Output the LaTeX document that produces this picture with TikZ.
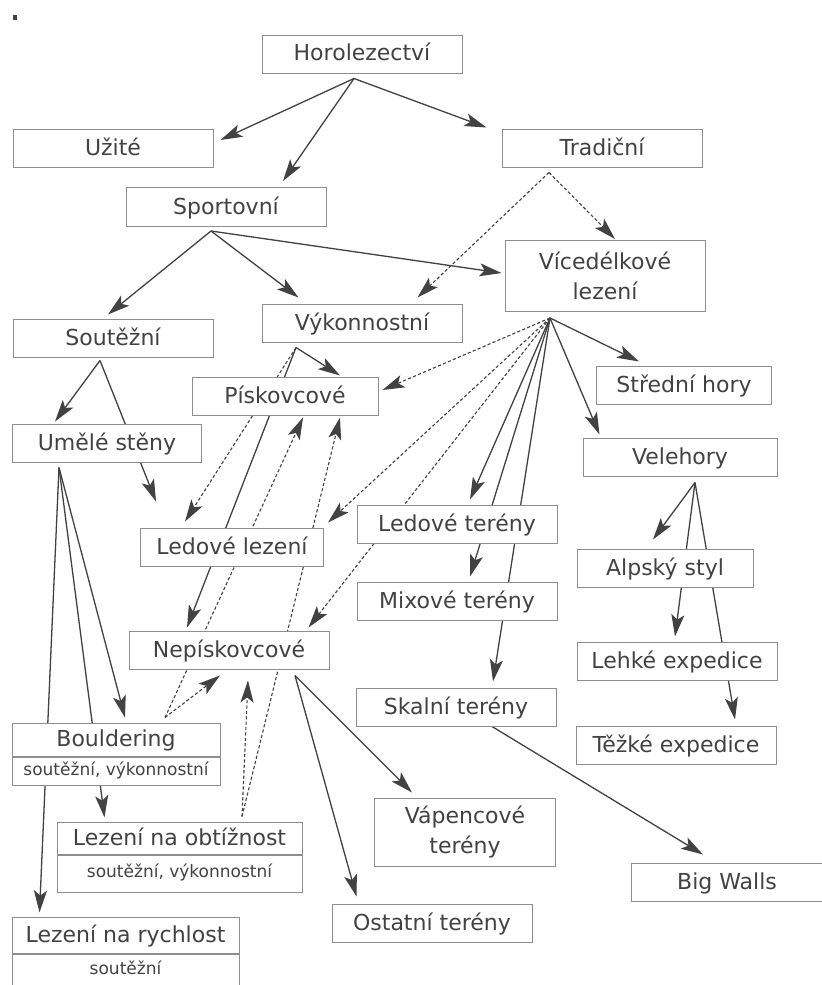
\documentclass[tikz,border=0pt]{standalone}
\usepackage{fontspec}
\setmainfont{DejaVu Sans}
\usetikzlibrary{arrows.meta}

\definecolor{ink}{HTML}{424242}
\definecolor{rule}{HTML}{8E8E8E}

\pgfdeclarelayer{back}
\pgfsetlayers{back,main}

\tikzset{
  frame/.style={draw=rule, line width=0.5pt, fill=white, text=ink, inner sep=0pt,
    minimum width=100pt, minimum height=19pt, font=\fontsize{11}{15}\selectfont},
  box/.style={frame, text height=7pt, text depth=0pt},
  subbox/.style={box, text height=4pt, font=\fontsize{8.5}{10}\selectfont},
  arr/.style={draw=ink, line width=0.65pt, -{Stealth[length=11pt,width=6.5pt,inset=2.5pt]}},
  darr/.style={arr, line width=0.55pt, dash pattern=on 1.6pt off 1.1pt}
}

\begin{document}
\begin{tikzpicture}[x=0.5pt,y=-0.5pt]

  \useasboundingbox (0,0) rectangle (822,985);
  \begin{pgfonlayer}{back}
    \fill[white] (0,0) rectangle (822,985);
  \end{pgfonlayer}
  \fill[ink] (13,15) rectangle (17,20);

  \node[box] (horo) at (362,54) {Horolezectví};
  \node[box] (uzite) at (113,148) {Užité};
  \node[box] (trad) at (602,148) {Tradiční};
  \node[box, minimum height=19.5pt] (sport) at (226,207) {Sportovní};
  \node[frame, minimum height=35.5pt, align=center] (vice) at (605,276) {Vícedélkové\\lezení};
  \node[box] (sout) at (113,338) {Soutěžní};
  \node[box] (vykon) at (362,323) {Výkonnostní};
  \node[box, minimum width=93pt] (pisk) at (285,396) {Pískovcové};
  \node[box, minimum width=94.5pt] (umele) at (107,443) {Umělé stěny};
  \node[box, minimum width=91.5pt] (ledlez) at (232,547) {Ledové lezení};
  \node[box] (ledter) at (457,524) {Ledové terény};
  \node[box] (mix) at (457,601) {Mixové terény};
  \node[box, minimum width=87.5pt] (stred) at (684,385) {Střední hory};
  \node[box, minimum width=97pt] (vele) at (680,457) {Velehory};
  \node[box, minimum width=88pt] (alp) at (665,568) {Alpský styl};
  \node[box] (nepisk) at (229,650) {Nepískovcové};
  \node[box] (skal) at (456,707) {Skalní terény};
  \node[box] (lehke) at (677,661) {Lehké expedice};
  \node[box] (tezke) at (676,745) {Těžké expedice};
  \node[frame, minimum width=90.5pt, minimum height=34pt, align=center] (vap) at (465,832) {Vápencové\\terény};
  \node[box] (ost) at (432,923) {Ostatní terény};
  \node[box, minimum width=95.5pt] (big) at (727,882) {Big Walls};

  \node[box, minimum width=104pt, minimum height=16.5pt] (boul) at (116,739.5) {Bouldering};
  \node[subbox, minimum width=104pt, minimum height=14pt, anchor=north] (boul-s) at (boul.south) {soutěžní, výkonnostní};
  \node[box, minimum width=122.5pt, minimum height=16pt] (obt) at (179.5,838) {Lezení na obtížnost};
  \node[subbox, minimum width=122.5pt, minimum height=18.5pt, anchor=north] (obt-s) at (obt.south) {soutěžní, výkonnostní};
  \node[box, minimum width=113.5pt, minimum height=18pt] (rych) at (125.5,935) {Lezení na rychlost};
  \node[subbox, minimum width=113.5pt, minimum height=16pt, anchor=north] (rych-s) at (rych.south) {soutěžní};

  \coordinate (horo-o) at ([shift={(-8,5)}]horo.south);
  \coordinate (sport-o) at ([shift={(-15,4)}]sport.south);
  \coordinate (trad-o) at ([shift={(-53,5)}]trad.south);
  \coordinate (vykon-o) at ([shift={(-66,5)}]vykon.south);
  \coordinate (vice-o) at ([shift={(-55,6)}]vice.south);
  \coordinate (sout-o) at ([shift={(-13,3)}]sout.south);
  \coordinate (umele-o) at ([shift={(-48,5)}]umele.south);
  \coordinate (boul-o) at ([shift={(49,-5)}]boul.north);
  \coordinate (obt-o) at ([shift={(62.5,-5)}]obt.north);
  \coordinate (nepisk-o) at ([shift={(66,6)}]nepisk.south);
  \coordinate (skal-o) at ([shift={(36,0)}]skal.south);
  \coordinate (vele-o) at ([shift={(15,6)}]vele.south);

  \begin{pgfonlayer}{back}
    \foreach \src/\dst/\dx/\dy in {
        horo-o/uzite.east/7/-8, horo-o/sport.north/57/-6, horo-o/trad.north west/-15/-1,
        sport-o/sout.north/-5/-4, sport-o/vykon.north west/37/-6, sport-o/vice.west/-3/-3,
        vykon-o/pisk.north/55/-1, vykon-o/nepisk.north/-42/-3,
        vice-o/ledter.north/13/-5, vice-o/mix.north/13/-5, vice-o/skal.north/37/-6,
        vice-o/stred.north/-45/-4, vice-o/vele.north west/17/-3,
        sout-o/umele.north/-52/-2, sout-o/ledlez.north west/16/-26,
        umele-o/boul.north/9/-5, umele-o/obt.north west/48/-4, umele-o/rych.north west/28/-4,
        nepisk-o/vap.north west/38/-5, nepisk-o/ost.north west/25/-7,
        skal-o/big.north west/72/-8,
        vele-o/alp.north/-12/-9, vele-o/lehke.north/-2/-5, vele-o/tezke.north/59/-6}
      \draw[arr] (\src) -- ([shift={(\dx,\dy)}]\dst);
    \foreach \src/\dst/\dx/\dy in {
        trad-o/vice.north/10/-1, trad-o/vykon.north east/-45/-6,
        vykon-o/ledlez.north/-47/-6,
        vice-o/pisk.east/4/-6, vice-o/ledlez.north east/4/-5, vice-o/nepisk.north east/-21/-3,
        boul-o/nepisk.south/-9/6, boul-o/pisk.south/18/2,
        obt-o/nepisk.south/19/11, obt-o/pisk.south/55/2}
      \draw[darr] (\src) -- ([shift={(\dx,\dy)}]\dst);
  \end{pgfonlayer}

\end{tikzpicture}
\end{document}
